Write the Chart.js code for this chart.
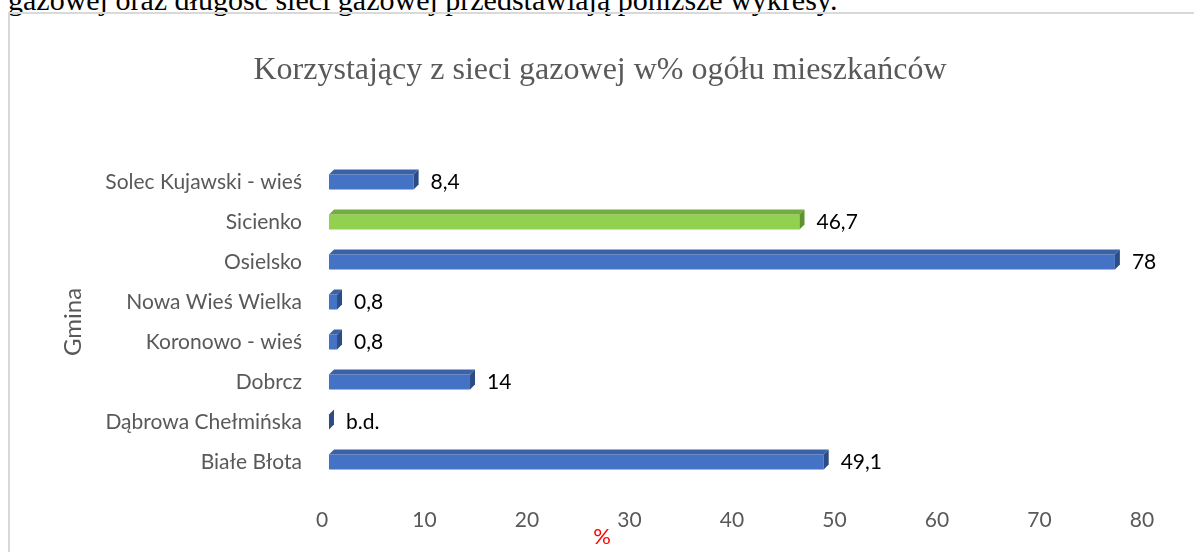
<!DOCTYPE html>
<html>
<head>
<meta charset="utf-8">
<script src="https://cdn.jsdelivr.net/npm/chart.js@4"></script>
<style>
  body { margin: 0; background: #fff; width: 1194px; height: 552px; overflow: hidden; position: relative; }
  #intro { position: absolute; left: 8px; top: -15px; font: 30px/30px "Liberation Serif", "Times New Roman", serif; color: #000; white-space: nowrap; }
  #frame { position: absolute; left: 8px; top: 12px; width: 1300px; height: 700px; border-left: 2px solid #d9d9d9; border-top: 2px solid #d9d9d9; }
  #chart { position: absolute; left: 0; top: 0; }
</style>
</head>
<body>
<div id="intro">gazowej oraz długość sieci gazowej przedstawiają poniższe wykresy.</div>
<div id="frame"></div>
<canvas id="chart" width="1194" height="552"></canvas>
<script>
// gminas top to bottom, as in the picture
const gminy = [
  'Solec Kujawski - wieś',
  'Sicienko',
  'Osielsko',
  'Nowa Wieś Wielka',
  'Koronowo - wieś',
  'Dobrcz',
  'Dąbrowa Chełmińska',
  'Białe Błota',
];
const udzial = [8.4, 46.7, 78, 0.8, 0.8, 14, 0, 49.1];
const etykiety = ['8,4', '46,7', '78', '0,8', '0,8', '14', 'b.d.', '49,1'];
const xTicks = [0, 10, 20, 30, 40, 50, 60, 70, 80];
const wyrozniona = 'Sicienko';

const blue = { front: '#4472C4', top: '#3A62A8', side: '#2D4C85' };
const green = { front: '#92D050', top: '#74AD3E', side: '#5F9131' };

const FONT = 'Lato, "Open Sans", sans-serif';
const GREY = '#595959';
const DEPTH = 5;

// excel-ish 3d bars: front face a bit pulled in, top + side faces
const bar3d = {
  id: 'bar3d',
  beforeDatasetDraw(chart, args) {
    const ctx = chart.ctx;
    const xs = chart.scales.x;
    const mid = (xs.left + xs.right) / 2;
    const front = (px) => mid + (px - mid) * 0.983;
    args.meta.data.forEach((bar, i) => {
      const c = gminy[i] === wyrozniona ? green : blue;
      const x0 = front(bar.base);
      const x1 = front(bar.x);
      const top = bar.y - bar.height / 2;
      const bot = bar.y + bar.height / 2;
      ctx.save();
      ctx.fillStyle = c.front;
      ctx.fillRect(x0, top, x1 - x0, bot - top);
      ctx.fillStyle = c.top;
      ctx.beginPath();
      ctx.moveTo(x0, top);
      ctx.lineTo(x0 + DEPTH, top - DEPTH);
      ctx.lineTo(x1 + DEPTH, top - DEPTH);
      ctx.lineTo(x1, top);
      ctx.closePath();
      ctx.fill();
      ctx.fillStyle = c.side;
      ctx.beginPath();
      ctx.moveTo(x1, top);
      ctx.lineTo(x1 + DEPTH, top - DEPTH);
      ctx.lineTo(x1 + DEPTH, bot - DEPTH);
      ctx.lineTo(x1, bot);
      ctx.closePath();
      ctx.fill();
      ctx.fillStyle = '#000';
      ctx.font = '21px ' + FONT;
      ctx.textAlign = 'left';
      ctx.textBaseline = 'middle';
      ctx.fillText(etykiety[i], x1 + DEPTH + 12, bar.y);
      ctx.restore();
    });
    return false;
  },
  afterDraw(chart) {
    const ctx = chart.ctx;
    ctx.save();
    ctx.fillStyle = '#FF0000';
    ctx.font = '22px ' + FONT;
    ctx.textAlign = 'center';
    ctx.textBaseline = 'middle';
    ctx.fillText('%', 602, 537);
    ctx.restore();
  },
};

new Chart(document.getElementById('chart'), {
  type: 'bar',
  data: {
    labels: gminy,
    datasets: [{
      data: udzial,
      backgroundColor: gminy.map((g) => (g === wyrozniona ? green.front : blue.front)),
      barThickness: 15,
    }],
  },
  options: {
    indexAxis: 'y',
    responsive: false,
    animation: false,
    layout: { padding: { left: 58, right: 52, top: 0, bottom: 0 } },
    plugins: {
      legend: { display: false },
      tooltip: { enabled: false },
      title: {
        display: true,
        text: 'Korzystający z sieci gazowej w% ogółu mieszkańców',
        color: GREY,
        font: { family: '"Liberation Serif", "Times New Roman", serif', size: 32, weight: 'normal', lineHeight: 1.2 },
        padding: { top: 51, bottom: 72.6 },
      },
    },
    scales: {
      x: {
        min: 0,
        max: 80,
        afterBuildTicks: (s) => { s.ticks = xTicks.map((v) => ({ value: v })); },
        afterFit: (s) => { s.height = 70; },
        grid: { display: false, drawTicks: false },
        border: { display: false },
        ticks: { color: GREY, font: { family: FONT, size: 21 }, padding: 26 },
      },
      y: {
        afterFit: (s) => { s.width = 264; },
        grid: { display: false, drawTicks: false },
        border: { display: false },
        ticks: { color: GREY, font: { family: FONT, size: 21 }, padding: 20 },
        title: {
          display: true,
          text: 'Gmina',
          color: GREY,
          font: { family: FONT, size: 24 },
          padding: { top: 1, bottom: 0 },
        },
      },
    },
  },
  plugins: [bar3d],
});
</script>
</body>
</html>
